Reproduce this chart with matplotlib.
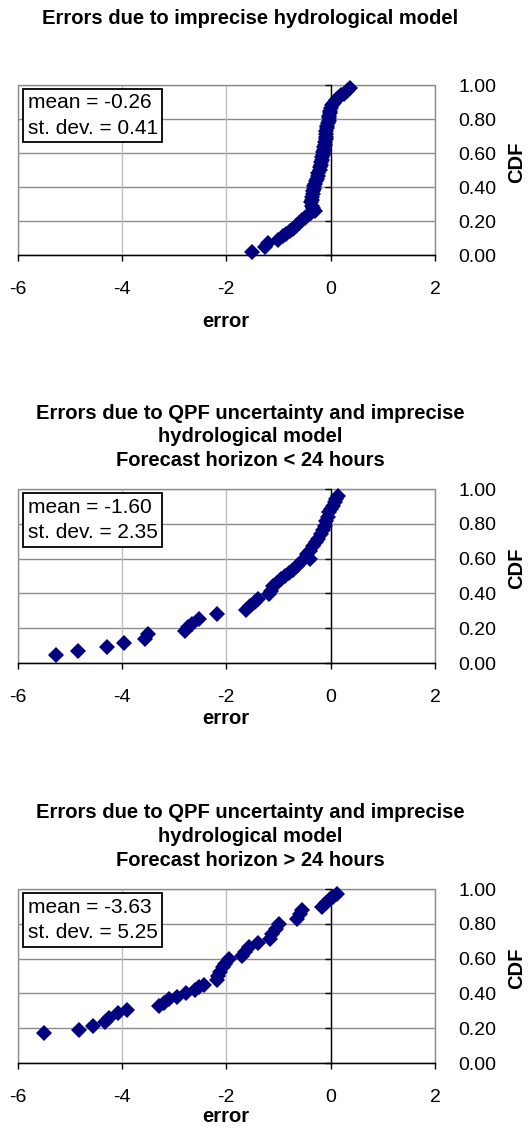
import matplotlib
matplotlib.use("Agg")
import matplotlib.pyplot as plt
from matplotlib.patches import Rectangle

plt.rcParams["font.family"] = ["Liberation Sans", "DejaVu Sans"]

MARKER_COLOR = "#000080"
HGRID = "#8c8c8c"
VGRID = "#c0c0c0"

# --- panel 1: imprecise hydrological model ---
err1 = [-1.50, -1.26, -1.20, -1.00, -0.92, -0.85, -0.78, -0.72, -0.66, -0.60,
        -0.55, -0.50, -0.44, -0.38, -0.30, -0.33, -0.36, -0.37, -0.36, -0.35,
        -0.34, -0.33, -0.32, -0.31, -0.29, -0.28, -0.26, -0.25, -0.24, -0.21,
        -0.20, -0.19, -0.18, -0.17, -0.16, -0.15, -0.14, -0.13, -0.12, -0.11,
        -0.10, -0.09, -0.09, -0.08, -0.08, -0.07, -0.06, -0.05, -0.04, -0.03,
        -0.03, -0.02, -0.01, 0.01, 0.03, 0.06, 0.10, 0.15, 0.20, 0.26,
        0.32, 0.38]
cdf1 = [0.020, 0.050, 0.070, 0.090, 0.110, 0.125, 0.140, 0.155, 0.170, 0.190,
        0.205, 0.220, 0.235, 0.245, 0.260, 0.275, 0.290, 0.310, 0.325, 0.340,
        0.360, 0.375, 0.390, 0.405, 0.420, 0.435, 0.450, 0.465, 0.480, 0.500,
        0.515, 0.530, 0.545, 0.560, 0.575, 0.590, 0.605, 0.620, 0.635, 0.650,
        0.665, 0.680, 0.695, 0.710, 0.730, 0.745, 0.760, 0.775, 0.790, 0.805,
        0.820, 0.835, 0.850, 0.865, 0.880, 0.895, 0.910, 0.925, 0.940, 0.950,
        0.965, 0.980]

# --- panel 2: QPF + model, horizon < 24 h ---
err2 = [-5.27, -4.84, -4.29, -3.95, -3.55, -3.50, -2.80, -2.74, -2.66, -2.52,
        -2.18, -1.62, -1.55, -1.45, -1.40, -1.18, -1.15, -1.10, -1.02, -0.95,
        -0.88, -0.80, -0.72, -0.64, -0.55, -0.40, -0.45, -0.40, -0.34, -0.28,
        -0.24, -0.19, -0.15, -0.11, -0.08, -0.05, -0.03, 0.00, 0.04, 0.08,
        0.11, 0.14]
cdf2 = [0.045, 0.068, 0.092, 0.115, 0.140, 0.165, 0.185, 0.205, 0.225, 0.255,
        0.280, 0.305, 0.325, 0.350, 0.370, 0.395, 0.415, 0.440, 0.460, 0.480,
        0.500, 0.515, 0.535, 0.560, 0.585, 0.600, 0.625, 0.645, 0.670, 0.695,
        0.715, 0.740, 0.765, 0.790, 0.815, 0.840, 0.865, 0.885, 0.905, 0.925,
        0.945, 0.960]

# --- panel 3: QPF + model, horizon > 24 h ---
err3 = [-5.50, -4.82, -4.55, -4.33, -4.25, -4.08, -3.90, -3.28, -3.20, -3.10,
        -2.95, -2.78, -2.60, -2.52, -2.42, -2.17, -2.15, -2.12, -2.07, -2.02,
        -1.95, -1.70, -1.65, -1.56, -1.40, -1.17, -1.12, -1.05, -0.98, -0.65,
        -0.58, -0.55, -0.16, -0.08, -0.02, 0.05, 0.12]
cdf3 = [0.170, 0.190, 0.210, 0.235, 0.260, 0.285, 0.305, 0.330, 0.345, 0.365,
        0.380, 0.400, 0.420, 0.435, 0.450, 0.475, 0.500, 0.525, 0.550, 0.570,
        0.595, 0.615, 0.640, 0.665, 0.690, 0.715, 0.740, 0.770, 0.800, 0.825,
        0.855, 0.880, 0.895, 0.920, 0.940, 0.955, 0.970]

titles = [
    ["Errors due to imprecise hydrological model"],
    ["Errors due to QPF uncertainty and imprecise", "hydrological model",
     "Forecast horizon < 24 hours"],
    ["Errors due to QPF uncertainty and imprecise", "hydrological model",
     "Forecast horizon > 24 hours"],
]
stats = [("-0.26", "0.41"), ("-1.60", "2.35"), ("-3.63", "5.25")]
series = [(err1, cdf1), (err2, cdf2), (err3, cdf3)]
x_ticks = [-6, -4, -2, 0, 2]
y_ticks = [0.0, 0.2, 0.4, 0.6, 0.8, 1.0]

W, H = 528, 1129
# pixel layout of each panel: (top, bottom, title line centers, xlabel center)
layout = [
    (85, 255, [18], 321),
    (489, 663, [413, 437, 461], 718),
    (889, 1063, [812, 836, 860], 1117),
]
LEFT, RIGHT = 17.5, 435

fig = plt.figure(figsize=(W / 100, H / 100), dpi=100, facecolor="white")

for (errs, cdfs), ttl, (mean, sd), (top, bot, tys, xly) in zip(series, titles, stats, layout):
    ax = fig.add_axes([LEFT / W, 1 - bot / H, (RIGHT - LEFT) / W, (bot - top) / H])
    ax.set_xlim(-6, 2)
    ax.set_ylim(0, 1)

    for yv in y_ticks:
        ax.axhline(yv, color=HGRID, lw=1.0, zorder=0)
    for xv in x_ticks:
        ax.axvline(xv, color=VGRID, lw=1.0, zorder=0)
    ax.add_patch(Rectangle((0, 0), 1, 1, transform=ax.transAxes, fill=False,
                           edgecolor=HGRID, lw=1.0, zorder=1, clip_on=False))

    ax.spines["left"].set_position(("data", 0))
    for s in ["left", "bottom"]:
        ax.spines[s].set_color("black")
        ax.spines[s].set_linewidth(1.0)
        ax.spines[s].set_zorder(2)
    for s in ["top", "right"]:
        ax.spines[s].set_visible(False)

    ax.set_xticks(x_ticks)
    ax.set_xticklabels([str(v) for v in x_ticks])
    ax.set_yticks(y_ticks)
    ax.set_yticklabels([f"{v:.2f}" for v in y_ticks])
    ax.tick_params(axis="x", direction="out", length=4, width=1, color="black",
                   labelsize=14, pad=15)
    ax.tick_params(axis="y", left=True, right=False, labelleft=False, labelright=True,
                   direction="out", length=4, width=1, color="black", labelsize=14, pad=13)

    ax.plot(errs, cdfs, linestyle="none", marker="D", markersize=8,
            markerfacecolor=MARKER_COLOR, markeredgewidth=0, zorder=3, clip_on=False)

    ax.text(0.024, 0.95, f"mean = {mean}\nst. dev. = {sd}", transform=ax.transAxes,
            ha="left", va="top", fontsize=15, linespacing=1.42, zorder=4,
            bbox=dict(boxstyle="square,pad=0.22", facecolor="white", edgecolor="black", lw=1.3))

    ax.text((517 - LEFT) / (RIGHT - LEFT), 0.5 + 8 / (bot - top), "CDF", transform=ax.transAxes,
            rotation=90, ha="center", va="center", fontsize=14.5, fontweight="bold")

    fig.text(226 / W, 1 - xly / H, "error", ha="center", va="center",
             fontsize=14.5, fontweight="bold")
    for line, ty in zip(ttl, tys):
        fig.text(250 / W, 1 - ty / H, line, ha="center", va="center",
                 fontsize=14.5, fontweight="bold")

fig.savefig("out.png", dpi=100, facecolor="white")
